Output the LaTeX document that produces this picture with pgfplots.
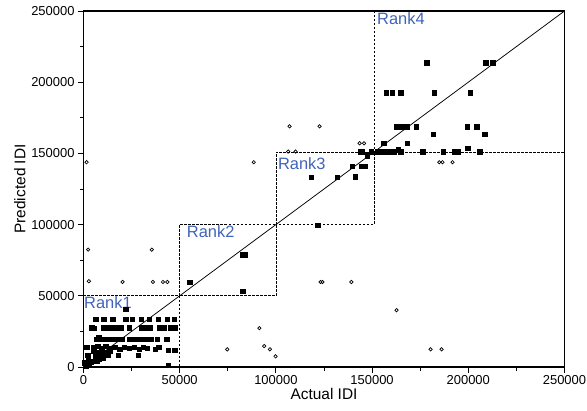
\documentclass[border=0pt]{standalone}
\usepackage{fontspec}
\setmainfont{Liberation Sans}
\usepackage{pgfplots}
\pgfplotsset{compat=1.18}
\definecolor{rankblue}{RGB}{64,100,184}
\begin{document}
\begin{tikzpicture}
\begin{axis}[name=ax,
  scale only axis, width=481bp, height=356bp,
  xmin=0, xmax=250000, ymin=0, ymax=250000,
  xtick={0,50000,100000,150000,200000,250000}, ytick={0,50000,100000,150000,200000,250000},
  xticklabels={0,50000,100000,150000,200000,250000},
  yticklabels={0,50000,100000,150000,200000,250000},
  minor xtick={25000,75000,125000,175000,225000},
  minor ytick={25000,75000,125000,175000,225000},
  tick pos=left, tick align=outside,
  major tick length=5.5bp, minor tick length=3.5bp,
  every tick/.style={black, line width=0.9bp},
  axis line style={line width=1.2bp},
  scaled ticks=false,
  ticklabel style={font=\fontsize{13}{15}\selectfont},
  xticklabel style={yshift=1bp},
  xlabel={Actual IDI}, ylabel={Predicted IDI},
  label style={font=\fontsize{15.5}{17}\selectfont},
  xlabel style={yshift=2.5bp},
  ylabel style={yshift=-1bp},
  clip=false,
]
% rank boxes
\addplot[black, line width=0.75bp, dash pattern=on 2.5bp off 1.5bp] coordinates {(0,50000) (50000,50000) (50000,0)};
\addplot[black, line width=0.75bp, dash pattern=on 2.5bp off 1.5bp] coordinates {(50000,50000) (50000,100000) (100000,100000) (100000,50000) (50000,50000)};
\addplot[black, line width=0.75bp, dash pattern=on 2.5bp off 1.5bp] coordinates {(100000,100000) (100000,151000) (151000,151000) (151000,100000) (100000,100000)};
\addplot[black, line width=0.75bp, dash pattern=on 2.5bp off 1.5bp] coordinates {(151000,250000) (151000,151000) (250000,151000)};
% diagonal
\addplot[black, line width=0.75bp] coordinates {(0,0) (250000,250000)};
% filled squares
\addplot[only marks, mark=square*, mark size=2.2bp, black] coordinates {
(6300,33600)(10500,33600)(15200,33600)(22000,33600)(25200,33600)(29900,33600)(34100,33600)(38900,33600)(43600,33600)(47000,33600)
(4200,27500)(10500,27500)(13700,27500)(16800,27500)(19500,27500)(23600,27500)(29900,27500)(32500,27500)(34700,27500)(39400,27500)(42000,27500)(45200,27500)(47500,27500)
(6800,19600)(9500,19600)(12100,19600)(14700,19600)(16800,19600)(19900,19600)(23600,19600)(25200,19600)(27800,19600)(30400,19600)(32500,19600)(35200,19600)(38300,19600)(43200,19600)
(5300,13500)(7400,14500)(9500,13000)(11600,14500)(13700,13000)(16300,14000)(18900,12500)(21000,14000)(23600,13000)(26300,14000)(28900,12500)(31000,14000)(33100,13000)(37400,12500)(39000,14000)(44100,12000)(47300,12000)
(6300,8400)(9500,8400)(12600,8400)(17900,8400)(28400,8400)(5000,11000)(8000,10500)(11000,10000)(14000,11000)
(1000,1000)(2000,2000)(3000,3000)(4000,3500)(5000,4000)(6000,5000)(7000,4500)(1500,500)(3000,1500)(8000,5500)(10000,6000)(500,3000)(2500,6000)
(5300,27300)(7900,21000)(1600,14000)(2100,8400)
(44100,1400)(22000,40400)
(55100,59700)(82800,53400)(82800,78900)(84000,78900)
(121700,99400)(118400,133300)(131800,133300)(141300,133500)
(139800,141200)(144300,141200)(146100,141200)
(144000,151300)(147500,149000)(149500,151300)(156100,157100)(163000,168800)
(144900,151300)(152600,151300)(154400,151300)(156100,151300)(157900,151300)(159500,151300)(161300,151300)(164800,151300)
(176200,151300)(186900,151300)(193000,151300)(194800,151300)(205900,151300)
(178400,213800)(209100,213800)(212600,213800)
(157200,192600)(160400,192600)(164900,192600)(182400,192600)(201000,192600)
(162700,168800)(164400,168800)(166200,168800)(167900,168800)(172900,168800)(199400,168800)(204300,168800)
(181800,163600)(208600,163600)
(168100,157100)(163600,153100)(199700,153800)(147500,148500)
};
% hollow circles
\addplot[only marks, mark=o, mark size=1.7bp, black, line width=0.7bp] coordinates {
(1600,143800)(2400,82400)(2800,60200)
(20300,59700)(36100,59700)(41300,59700)(43600,59700)(35500,82400)
(88500,143800)(107100,169000)(122700,169000)(106400,151300)(110200,151300)
(123200,59700)(124200,59700)(139200,59700)
(143500,157100)(145800,157100)
(91400,27300)(74700,12400)(93900,14700)(96900,12400)(99800,7500)
(184900,143800)(186600,143800)(191800,143800)
(162700,39900)(180400,12400)(186100,12400)
};
% rank labels
\node[anchor=north west, inner sep=0, text=rankblue, font=\fontsize{16.5}{18}\selectfont] at ([xshift=0.5bp,yshift=-0.5bp]axis cs:0,50000) {Rank1};
\node[anchor=north west, inner sep=0, text=rankblue, font=\fontsize{16.5}{18}\selectfont] at ([xshift=7bp,yshift=-0.5bp]axis cs:50000,100000) {Rank2};
\node[anchor=north west, inner sep=0, text=rankblue, font=\fontsize{16.5}{18}\selectfont] at ([xshift=2bp,yshift=-5bp]axis cs:100000,151000) {Rank3};
\node[anchor=north west, inner sep=0, text=rankblue, font=\fontsize{16.5}{18}\selectfont] at ([xshift=3bp,yshift=-1.5bp]axis cs:151000,250000) {Rank4};
\end{axis}
\pgfresetboundingbox
\path (ax.south west) ++(-83.5bp,-44bp) rectangle ++(587bp,411bp);
\end{tikzpicture}
\end{document}
